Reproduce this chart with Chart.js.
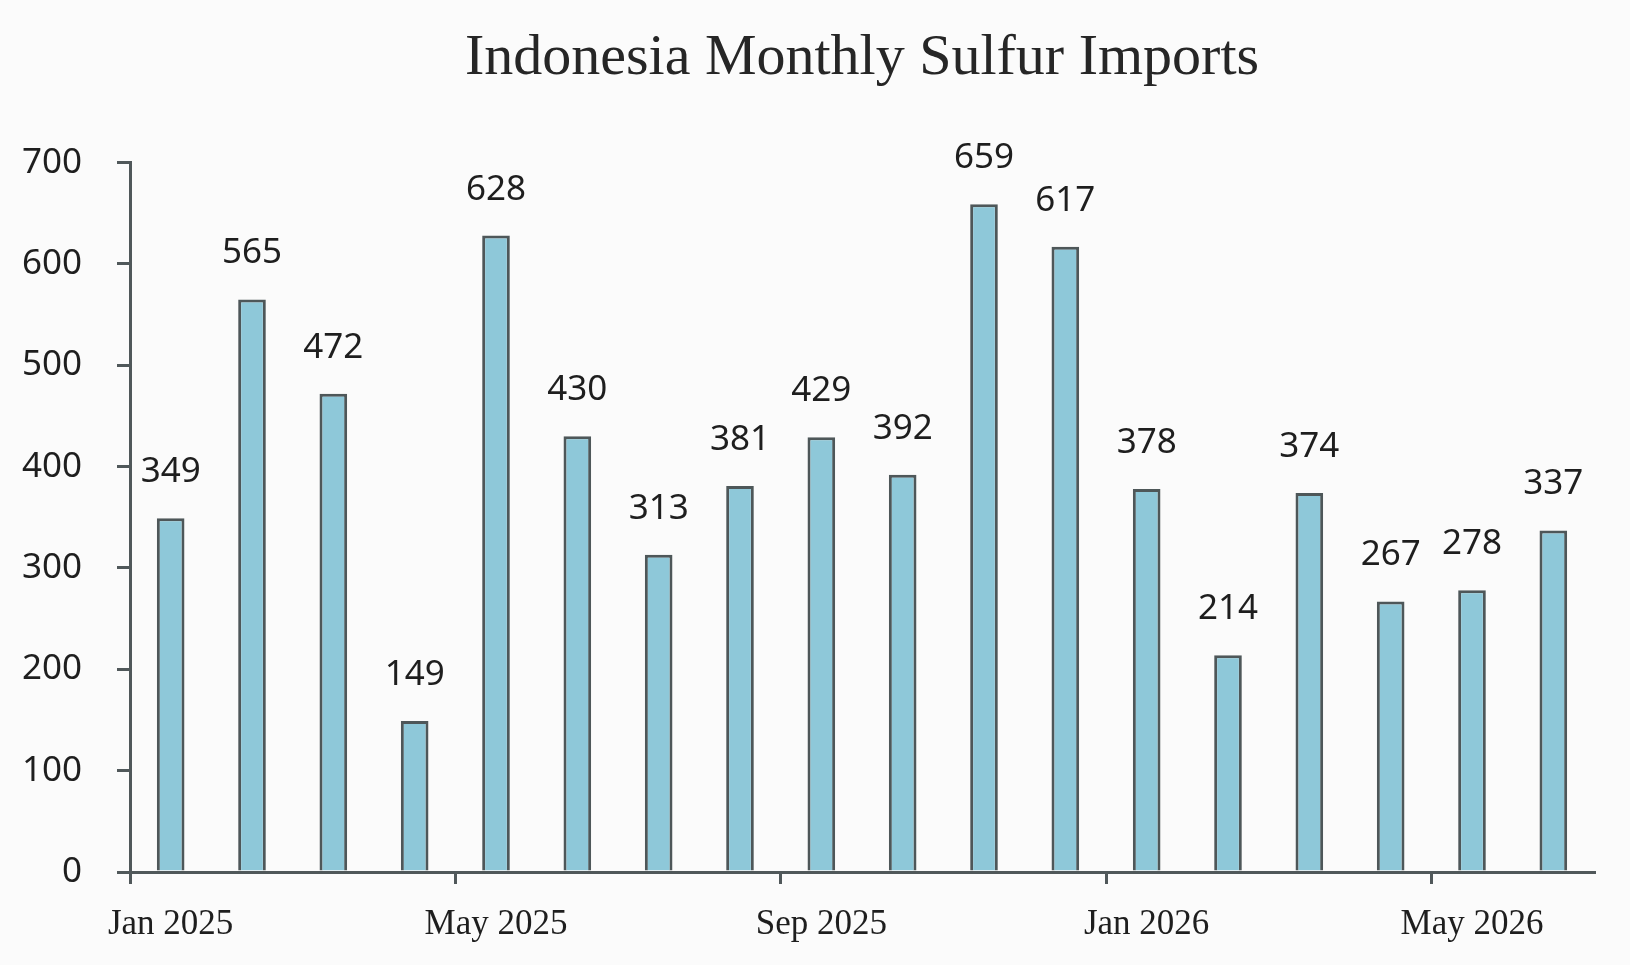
<!DOCTYPE html>
<html>
<head>
<meta charset="utf-8">
<script src="https://cdn.jsdelivr.net/npm/chart.js@4.4.1/dist/chart.umd.min.js"></script>
<style>
  html, body { margin: 0; padding: 0; background: #fbfbfb; }
  #wrap { width: 1630px; height: 965px; }
</style>
</head>
<body>
<div id="wrap"><canvas id="myChart" width="1630" height="965"></canvas></div>
<script>
var months = ["Jan 2025", "Feb 2025", "Mar 2025", "Apr 2025", "May 2025", "Jun 2025",
  "Jul 2025", "Aug 2025", "Sep 2025", "Oct 2025", "Nov 2025", "Dec 2025",
  "Jan 2026", "Feb 2026", "Mar 2026", "Apr 2026", "May 2026", "Jun 2026"];
var imports = [349, 565, 472, 149, 628, 430, 313, 381, 429, 392, 659, 617, 378, 214, 374, 267, 278, 337];
var yTicks = [0, 100, 200, 300, 400, 500, 600, 700];

var axisColor = "#50585a";

// simple value labels above each bar
var barLabels = {
  id: "barLabels",
  afterDatasetsDraw: function (chart) {
    var ctx = chart.ctx;
    var meta = chart.getDatasetMeta(0);
    ctx.save();
    ctx.font = "35px 'Noto Sans'";
    ctx.fillStyle = "#1e1e1e";
    ctx.textAlign = "center";
    ctx.textBaseline = "middle";
    meta.data.forEach(function (bar, i) {
      ctx.fillText(imports[i], bar.x, bar.y - 46);
    });
    ctx.restore();
  }
};

var ctx = document.getElementById("myChart").getContext("2d");
var chart = new Chart(ctx, {
  type: "bar",
  data: {
    labels: months,
    datasets: [{
      label: "Imports",
      data: imports,
      backgroundColor: "#8ec8d9",
      borderColor: "#4e5759",
      borderWidth: 3,
      barPercentage: 0.34,
      categoryPercentage: 1.0
    }]
  },
  options: {
    responsive: false,
    animation: false,
    devicePixelRatio: 1,
    layout: { padding: { left: 0, right: 36, top: 0, bottom: 0 } },
    plugins: {
      legend: { display: false },
      tooltip: { enabled: false },
      title: {
        display: true,
        fullSize: false,
        text: "Indonesia Monthly Sulfur Imports",
        color: "#262626",
        font: { family: "'Liberation Serif'", size: 58, weight: "normal", lineHeight: 1.2 },
        padding: { top: 24, bottom: 69 }
      }
    },
    scales: {
      x: {
        offset: true,
        border: { color: axisColor, width: 3 },
        grid: {
          offset: true,
          drawOnChartArea: false,
          drawTicks: true,
          tickLength: 12,
          lineWidth: 3,
          color: function (c) { return c.index % 4 === 0 ? axisColor : "rgba(0,0,0,0)"; }
        },
        ticks: {
          autoSkip: false,
          maxRotation: 0,
          padding: 20,
          color: "#1e1e1e",
          font: { family: "'Liberation Serif'", size: 35 },
          callback: function (v, i) { return i % 4 === 0 ? months[i] : ""; }
        },
        afterFit: function (s) { s.height = 93; }
      },
      y: {
        min: 0,
        max: 700,
        border: { color: axisColor, width: 3 },
        grid: {
          drawOnChartArea: false,
          drawTicks: true,
          tickLength: 13,
          lineWidth: 3,
          color: axisColor
        },
        afterBuildTicks: function (s) {
          s.ticks = yTicks.map(function (v) { return { value: v }; });
        },
        ticks: {
          padding: 35,
          color: "#1e1e1e",
          font: { family: "'Noto Sans'", size: 35 }
        },
        afterFit: function (s) { s.width = 130; }
      }
    }
  },
  plugins: [barLabels]
});
</script>
</body>
</html>
